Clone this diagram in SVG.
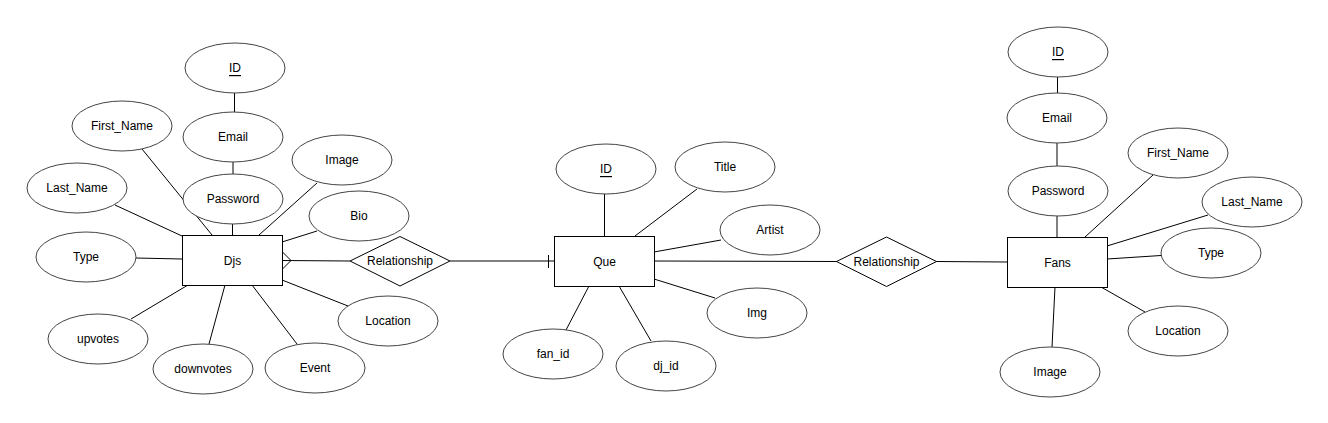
<svg xmlns="http://www.w3.org/2000/svg" width="1328" height="423" viewBox="0 0 1328 423">
<style>
.bg{fill:#fff}
.ent{fill:#fff;stroke:#000;stroke-width:1}
.att{fill:#fff;stroke:#444;stroke-width:1}
.rel{fill:#fff;stroke:#000;stroke-width:1}
.ln{fill:none;stroke:#000;stroke-width:1}
text{font-family:"Liberation Sans",Arial,Helvetica,sans-serif;font-size:12px;fill:#000;text-anchor:middle;dominant-baseline:central}
.key{text-decoration:underline}
</style>
<rect class="bg" x="0" y="0" width="1328" height="423"/>
<g id="connectors">
<!-- Djs -->
<line class="ln" x1="234.5" y1="93" x2="234.5" y2="112"/>
<line class="ln" x1="233" y1="162" x2="233" y2="174" stroke-width="1.5"/>
<line class="ln" x1="232.5" y1="224" x2="232.5" y2="235"/>
<line class="ln" x1="142" y1="149" x2="212" y2="235"/>
<line class="ln" x1="115" y1="205" x2="182" y2="236"/>
<line class="ln" x1="317" y1="183" x2="259" y2="235"/>
<line class="ln" x1="317" y1="231" x2="282" y2="242"/>
<line class="ln" x1="136" y1="258" x2="182" y2="259"/>
<line class="ln" x1="131" y1="319" x2="188" y2="285"/>
<line class="ln" x1="209" y1="344" x2="225" y2="285"/>
<line class="ln" x1="297" y1="344" x2="252" y2="285"/>
<line class="ln" x1="348" y1="306" x2="282" y2="280"/>
<line class="ln" x1="282" y1="260.5" x2="350" y2="261"/>
<polyline class="ln" points="282,251.5 291,260.5 282,269.5"/>
<line class="ln" x1="450" y1="261" x2="554" y2="261"/>
<line class="ln" x1="548.5" y1="255" x2="548.5" y2="268"/>
<!-- Que -->
<line class="ln" x1="604.5" y1="194" x2="604.5" y2="236"/>
<line class="ln" x1="697" y1="189" x2="635" y2="236"/>
<line class="ln" x1="721" y1="240" x2="654" y2="252"/>
<line class="ln" x1="715" y1="298" x2="654" y2="279"/>
<line class="ln" x1="566" y1="330" x2="589" y2="286"/>
<line class="ln" x1="651" y1="341" x2="619" y2="286"/>
<line class="ln" x1="654" y1="261" x2="837" y2="261.5"/>
<!-- Fans -->
<line class="ln" x1="1057.5" y1="77" x2="1057.5" y2="93"/>
<line class="ln" x1="1057" y1="143" x2="1057" y2="166" stroke-width="1.5"/>
<line class="ln" x1="1057" y1="216" x2="1057" y2="237"/>
<line class="ln" x1="1153" y1="175" x2="1085" y2="237"/>
<line class="ln" x1="1208" y1="215" x2="1107" y2="246"/>
<line class="ln" x1="1161" y1="255.5" x2="1107" y2="259"/>
<line class="ln" x1="1145" y1="312" x2="1101" y2="287"/>
<line class="ln" x1="1052" y1="347" x2="1055" y2="287"/>
<line class="ln" x1="936" y1="261.5" x2="1007" y2="262"/>
</g>
<!-- Djs entity -->
<g id="djs"><rect class="ent" x="182.5" y="235.5" width="100" height="50"/><text x="232.5" y="260.5">Djs</text></g>
<g id="djs-id"><ellipse class="att" cx="235" cy="68" rx="50" ry="25"/><text class="key" x="235" y="68">ID</text></g>
<g id="djs-email"><ellipse class="att" cx="233" cy="137" rx="50" ry="25"/><text x="233" y="137">Email</text></g>
<g id="djs-first"><ellipse class="att" cx="122" cy="126" rx="50" ry="25"/><text x="122" y="126">First_Name</text></g>
<g id="djs-last"><ellipse class="att" cx="77" cy="188" rx="50" ry="25"/><text x="77" y="188">Last_Name</text></g>
<g id="djs-password"><ellipse class="att" cx="233" cy="199" rx="50" ry="25"/><text x="233" y="199">Password</text></g>
<g id="djs-image"><ellipse class="att" cx="342" cy="160" rx="50" ry="25"/><text x="342" y="160">Image</text></g>
<g id="djs-bio"><ellipse class="att" cx="359" cy="216" rx="50" ry="25"/><text x="359" y="216">Bio</text></g>
<g id="djs-type"><ellipse class="att" cx="86" cy="257" rx="50" ry="25"/><text x="86" y="257">Type</text></g>
<g id="djs-upvotes"><ellipse class="att" cx="98" cy="339" rx="50" ry="25"/><text x="98" y="339">upvotes</text></g>
<g id="djs-downvotes"><ellipse class="att" cx="203" cy="369" rx="50" ry="25"/><text x="203" y="369">downvotes</text></g>
<g id="djs-event"><ellipse class="att" cx="315" cy="368" rx="50" ry="25"/><text x="315" y="368">Event</text></g>
<g id="djs-location"><ellipse class="att" cx="388" cy="321" rx="50" ry="25"/><text x="388" y="321">Location</text></g>
<g id="rel1"><polygon class="rel" points="350,261 400,236.5 450,261 400,286"/><text x="400" y="261">Relationship</text></g>
<!-- Que entity -->
<g id="que"><rect class="ent" x="554.5" y="236.5" width="100" height="50"/><text x="604.5" y="261.5">Que</text></g>
<g id="que-id"><ellipse class="att" cx="606" cy="169" rx="50" ry="25"/><text class="key" x="606" y="169">ID</text></g>
<g id="que-title"><ellipse class="att" cx="725" cy="167" rx="50" ry="25"/><text x="725" y="167">Title</text></g>
<g id="que-artist"><ellipse class="att" cx="770" cy="230" rx="50" ry="25"/><text x="770" y="230">Artist</text></g>
<g id="que-img"><ellipse class="att" cx="757" cy="313" rx="50" ry="25"/><text x="757" y="313">Img</text></g>
<g id="que-fanid"><ellipse class="att" cx="553" cy="354" rx="50" ry="25"/><text x="553" y="354">fan_id</text></g>
<g id="que-djid"><ellipse class="att" cx="666" cy="366" rx="50" ry="25"/><text x="666" y="366">dj_id</text></g>
<g id="rel2"><polygon class="rel" points="836.5,261.5 886.5,237 936.5,261.5 886.5,286.5"/><text x="886.5" y="261.5">Relationship</text></g>
<!-- Fans entity -->
<g id="fans"><rect class="ent" x="1007.5" y="237.5" width="100" height="50"/><text x="1057.5" y="262.5">Fans</text></g>
<g id="fans-id"><ellipse class="att" cx="1058" cy="52" rx="50" ry="25"/><text class="key" x="1058" y="52">ID</text></g>
<g id="fans-email"><ellipse class="att" cx="1057" cy="118" rx="50" ry="25"/><text x="1057" y="118">Email</text></g>
<g id="fans-password"><ellipse class="att" cx="1058" cy="191" rx="50" ry="25"/><text x="1058" y="191">Password</text></g>
<g id="fans-first"><ellipse class="att" cx="1178" cy="153" rx="50" ry="25"/><text x="1178" y="153">First_Name</text></g>
<g id="fans-last"><ellipse class="att" cx="1252" cy="202" rx="50" ry="25"/><text x="1252" y="202">Last_Name</text></g>
<g id="fans-type"><ellipse class="att" cx="1211" cy="253" rx="50" ry="25"/><text x="1211" y="253">Type</text></g>
<g id="fans-location"><ellipse class="att" cx="1178" cy="331" rx="50" ry="25"/><text x="1178" y="331">Location</text></g>
<g id="fans-image"><ellipse class="att" cx="1050" cy="372" rx="50" ry="25"/><text x="1050" y="372">Image</text></g>
</svg>
